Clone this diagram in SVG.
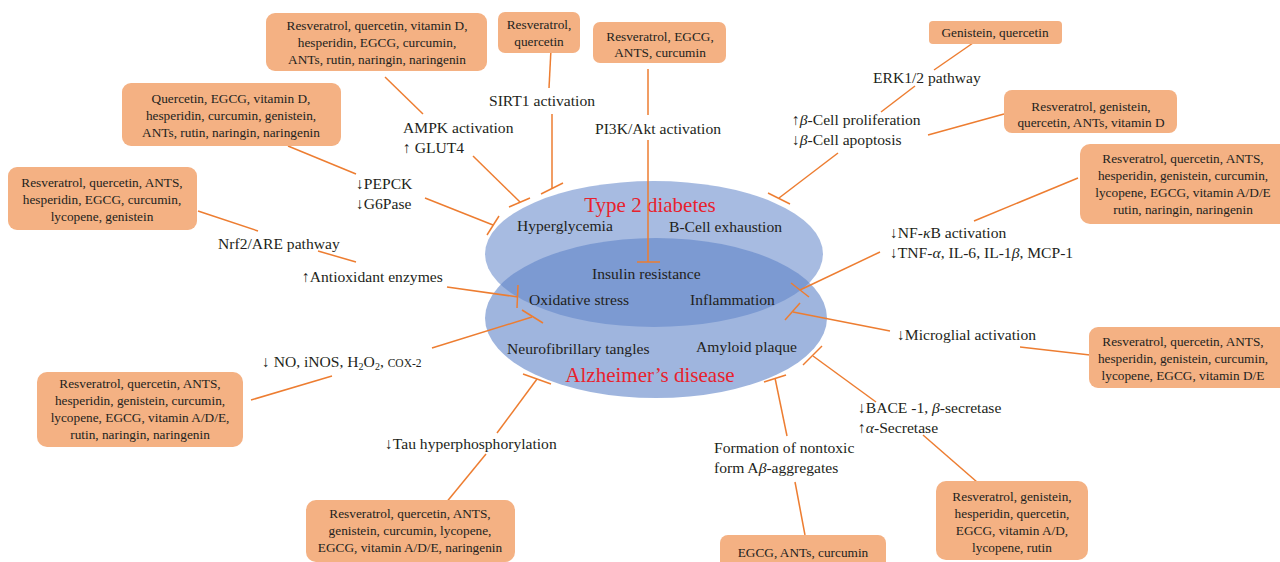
<svg xmlns="http://www.w3.org/2000/svg" width="1280" height="562" viewBox="0 0 1280 562">
<defs>
<style>
text{font-family:"Liberation Serif","DejaVu Serif",serif;fill:#231f20}
.b{fill:#f4b183;stroke:none}
.bt{font-size:13.3px;text-anchor:middle}
.l{font-size:15.6px}
.t{font-size:21px;fill:#e8222d;text-anchor:middle}
.c line{stroke:#ed7d31;stroke-width:1.5;fill:none}
.i{font-style:italic}
.sc{font-size:11.5px}
</style>
</defs>
<rect width="1280" height="562" fill="#fff"/>

<g id="ellipses">
<ellipse id="t2d" cx="654" cy="254" rx="169" ry="73" fill="#5f84c8" fill-opacity="0.55"/>
<ellipse id="ad" cx="656" cy="318" rx="171" ry="80" fill="#5f84c8" fill-opacity="0.6"/>
</g>

<g id="center-labels">
<text class="t" x="650" y="212">Type 2 diabetes</text>
<text class="l" x="517" y="231">Hyperglycemia</text>
<text class="l" x="669" y="232">B-Cell exhaustion</text>
<text class="l" x="592" y="279">Insulin resistance</text>
<text class="l" x="529" y="305">Oxidative stress</text>
<text class="l" x="690" y="305">Inflammation</text>
<text class="l" x="507" y="354">Neurofibrillary tangles</text>
<text class="l" x="696" y="352">Amyloid plaque</text>
<text class="t" x="650" y="382">Alzheimer’s disease</text>
</g>

<g class="c" id="connectors">
<line x1="385" y1="77" x2="423" y2="114"/>
<line x1="551" y1="49" x2="549" y2="88"/>
<line x1="648" y1="69" x2="648" y2="115"/>
<line x1="288" y1="146" x2="356" y2="174"/>
<line x1="198" y1="211" x2="258" y2="231"/>
<line x1="318" y1="251" x2="356" y2="262"/>
<line x1="251" y1="400" x2="332" y2="376"/>
<line x1="445" y1="504" x2="486" y2="454"/>
<line x1="795" y1="482" x2="805" y2="535"/>
<line x1="923" y1="435" x2="977" y2="482"/>
<line x1="1020" y1="347" x2="1090" y2="355"/>
<line x1="974" y1="221" x2="1078" y2="178"/>
<line x1="928" y1="135" x2="1004" y2="114"/>
<line x1="973" y1="43" x2="934" y2="70"/>
<line x1="915" y1="86" x2="881" y2="112"/>

<line x1="473" y1="156" x2="520" y2="202"/><line x1="509" y1="207" x2="530" y2="198"/>
<line x1="552" y1="114" x2="552" y2="188"/><line x1="541" y1="194" x2="563" y2="183"/>
<line x1="648" y1="140" x2="648" y2="262"/><line x1="637" y1="262" x2="660" y2="262"/>
<line x1="425" y1="198" x2="493" y2="225"/><line x1="487" y1="235" x2="499" y2="216"/>
<line x1="447" y1="287" x2="518" y2="297"/><line x1="518" y1="285" x2="517" y2="308"/>
<line x1="432" y1="348" x2="532" y2="317"/><line x1="522" y1="310" x2="543" y2="323"/>
<line x1="497" y1="433" x2="537" y2="379"/><line x1="523" y1="374" x2="551" y2="384"/>
<line x1="787" y1="436" x2="775" y2="378"/><line x1="764" y1="382" x2="786" y2="375"/>
<line x1="876" y1="402" x2="813" y2="356"/><line x1="803" y1="365" x2="822" y2="346"/>
<line x1="890" y1="331" x2="793" y2="312"/><line x1="785" y1="320" x2="800" y2="303"/>
<line x1="880" y1="252" x2="800" y2="290"/><line x1="791" y1="283" x2="809" y2="297"/>
<line x1="838" y1="153" x2="779" y2="198"/><line x1="768" y1="193" x2="790" y2="204"/>
</g>

<g id="labels">
<text class="l" x="403" y="133">AMPK activation</text>
<text class="l" x="403" y="153">↑ GLUT4</text>
<text class="l" x="489" y="106">SIRT1 activation</text>
<text class="l" x="595" y="134">PI3K/Akt activation</text>
<text class="l" x="873" y="83">ERK1/2 pathway</text>
<text class="l" x="792" y="125">↑<tspan class="i">β</tspan>-Cell proliferation</text>
<text class="l" x="792" y="145">↓<tspan class="i">β</tspan>-Cell apoptosis</text>
<text class="l" x="356" y="189">↓PEPCK</text>
<text class="l" x="356" y="209">↓G6Pase</text>
<text class="l" x="218" y="249">Nrf2/ARE pathway</text>
<text class="l" x="302" y="282">↑Antioxidant enzymes</text>
<text class="l" x="890" y="238">↓NF-<tspan class="i">κ</tspan>B activation</text>
<text class="l" x="890" y="258">↓TNF-<tspan class="i">α</tspan>, IL-6, IL-1<tspan class="i">β</tspan>, MCP-1</text>
<text class="l" x="897" y="340">↓Microglial activation</text>
<text class="l" x="262" y="367">↓ NO, iNOS, H<tspan font-size="10" dy="3">2</tspan><tspan dy="-3">O</tspan><tspan font-size="10" dy="3">2</tspan><tspan dy="-3">, </tspan><tspan class="sc">COX-2</tspan></text>
<text class="l" x="385" y="449">↓Tau hyperphosphorylation</text>
<text class="l" x="714" y="453">Formation of nontoxic</text>
<text class="l" x="714" y="473">form A<tspan class="i">β</tspan>-aggregates</text>
<text class="l" x="858" y="413">↓BACE -1, <tspan class="i">β</tspan>-secretase</text>
<text class="l" x="858" y="433">↑<tspan class="i">α</tspan>-Secretase</text>
</g>

<g id="box-ampk"><rect class="b" x="266" y="13" width="221" height="58" rx="9"/>
<text class="bt" x="377" y="30">Resveratrol, quercetin, vitamin D,</text>
<text class="bt" x="377" y="47">hesperidin, EGCG, curcumin,</text>
<text class="bt" x="377" y="64">ANTs, rutin, naringin, naringenin</text></g>

<g id="box-sirt1"><rect class="b" x="498" y="12" width="82" height="41" rx="7"/>
<text class="bt" x="539" y="28.5">Resveratrol,</text>
<text class="bt" x="539" y="45.5">quercetin</text></g>

<g id="box-pi3k"><rect class="b" x="593" y="22" width="133" height="41" rx="7"/>
<text class="bt" x="660" y="40.5">Resveratrol, EGCG,</text>
<text class="bt" x="660" y="56.5">ANTS, curcumin</text></g>

<g id="box-erk"><rect class="b" x="929" y="21" width="133" height="23" rx="4"/>
<text class="bt" x="995" y="36.5">Genistein, quercetin</text></g>

<g id="box-betacell"><rect class="b" x="1004" y="90" width="173" height="43" rx="8"/>
<text class="bt" x="1091" y="110.5">Resveratrol, genistein,</text>
<text class="bt" x="1091" y="126.5">quercetin, ANTs, vitamin D</text></g>

<g id="box-nfkb"><rect class="b" x="1080" y="144" width="210" height="80" rx="10"/>
<text class="bt" x="1183" y="162.5">Resveratrol, quercetin, ANTS,</text>
<text class="bt" x="1183" y="179.5">hesperidin, genistein, curcumin,</text>
<text class="bt" x="1183" y="196.5">lycopene, EGCG, vitamin A/D/E</text>
<text class="bt" x="1183" y="213.5">rutin, naringin, naringenin</text></g>

<g id="box-pepck"><rect class="b" x="122" y="83" width="219" height="63" rx="9"/>
<text class="bt" x="231" y="102.5">Quercetin, EGCG, vitamin D,</text>
<text class="bt" x="231" y="119.5">hesperidin, curcumin, genistein,</text>
<text class="bt" x="231" y="136.5">ANTs, rutin, naringin, naringenin</text></g>

<g id="box-nrf2"><rect class="b" x="8" y="167" width="189" height="63" rx="9"/>
<text class="bt" x="102" y="186.5">Resveratrol, quercetin, ANTS,</text>
<text class="bt" x="102" y="203.5">hesperidin, EGCG, curcumin,</text>
<text class="bt" x="102" y="220.5">lycopene, genistein</text></g>

<g id="box-no"><rect class="b" x="37" y="372" width="206" height="75" rx="10"/>
<text class="bt" x="140" y="387.5">Resveratrol, quercetin, ANTS,</text>
<text class="bt" x="140" y="404.5">hesperidin, genistein, curcumin,</text>
<text class="bt" x="140" y="421.5">lycopene, EGCG, vitamin A/D/E,</text>
<text class="bt" x="140" y="438.5">rutin, naringin, naringenin</text></g>

<g id="box-tau"><rect class="b" x="306" y="500" width="209" height="62" rx="10"/>
<text class="bt" x="410" y="517.5">Resveratrol, quercetin, ANTS,</text>
<text class="bt" x="410" y="534.5">genistein, curcumin, lycopene,</text>
<text class="bt" x="410" y="551.5">EGCG, vitamin A/D/E, naringenin</text></g>

<g id="box-abeta"><rect class="b" x="720" y="535" width="166" height="40" rx="8"/>
<text class="bt" x="803" y="556.5">EGCG, ANTs, curcumin</text></g>

<g id="box-bace"><rect class="b" x="936" y="481" width="152" height="79" rx="10"/>
<text class="bt" x="1012" y="500.5">Resveratrol, genistein,</text>
<text class="bt" x="1012" y="517.5">hesperidin, quercetin,</text>
<text class="bt" x="1012" y="534.5">EGCG, vitamin A/D,</text>
<text class="bt" x="1012" y="551.5">lycopene, rutin</text></g>

<g id="box-microglia"><rect class="b" x="1089" y="327" width="201" height="61" rx="9"/>
<text class="bt" x="1183" y="346">Resveratrol, quercetin, ANTS,</text>
<text class="bt" x="1183" y="363">hesperidin, genistein, curcumin,</text>
<text class="bt" x="1183" y="380">lycopene, EGCG, vitamin D/E</text></g>
</svg>
